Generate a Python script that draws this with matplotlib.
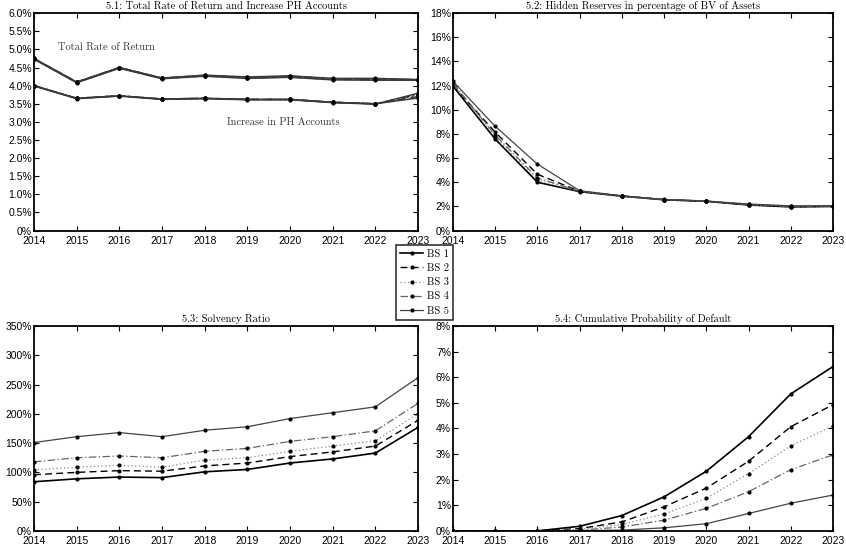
import matplotlib
matplotlib.use("Agg")
import matplotlib.pyplot as plt
from matplotlib.ticker import FuncFormatter, FixedLocator

years = [2014, 2015, 2016, 2017, 2018, 2019, 2020, 2021, 2022, 2023]
series_names = ["BS 1", "BS 2", "BS 3", "BS 4", "BS 5"]

# 5.1 Total rate of return (%) per balance sheet
trr = {
    "BS 1": [4.75, 4.10, 4.50, 4.21, 4.29, 4.24, 4.27, 4.20, 4.20, 4.17],
    "BS 2": [4.75, 4.10, 4.50, 4.21, 4.28, 4.23, 4.26, 4.19, 4.19, 4.16],
    "BS 3": [4.74, 4.09, 4.49, 4.20, 4.27, 4.22, 4.25, 4.18, 4.18, 4.16],
    "BS 4": [4.74, 4.09, 4.49, 4.20, 4.27, 4.21, 4.24, 4.17, 4.17, 4.15],
    "BS 5": [4.73, 4.08, 4.48, 4.19, 4.26, 4.20, 4.23, 4.16, 4.15, 4.15],
}
# 5.1 Increase in PH accounts (%)
ph = {
    "BS 1": [4.00, 3.65, 3.72, 3.63, 3.65, 3.62, 3.62, 3.54, 3.50, 3.66],
    "BS 2": [4.00, 3.65, 3.72, 3.63, 3.65, 3.62, 3.62, 3.54, 3.50, 3.70],
    "BS 3": [4.00, 3.65, 3.72, 3.63, 3.65, 3.62, 3.62, 3.54, 3.50, 3.73],
    "BS 4": [4.00, 3.65, 3.72, 3.63, 3.65, 3.62, 3.62, 3.54, 3.50, 3.76],
    "BS 5": [3.99, 3.64, 3.71, 3.62, 3.64, 3.61, 3.61, 3.53, 3.49, 3.79],
}
# 5.2 Hidden reserves in % of BV of assets
hidden = {
    "BS 1": [11.95, 7.57, 4.00, 3.22, 2.85, 2.55, 2.42, 2.12, 1.96, 2.00],
    "BS 2": [12.00, 8.14, 4.66, 3.25, 2.86, 2.56, 2.43, 2.14, 1.98, 2.01],
    "BS 3": [12.10, 7.75, 4.20, 3.24, 2.86, 2.56, 2.43, 2.14, 1.99, 2.02],
    "BS 4": [12.20, 7.90, 4.35, 3.26, 2.87, 2.57, 2.44, 2.16, 2.01, 2.03],
    "BS 5": [12.35, 8.63, 5.50, 3.30, 2.88, 2.58, 2.45, 2.20, 2.05, 2.06],
}
# 5.3 Solvency ratio (%)
solvency = {
    "BS 1": [84, 89, 92, 91, 101, 105, 116, 123, 133, 177],
    "BS 2": [96, 100, 103, 102, 111, 116, 127, 135, 145, 189],
    "BS 3": [104, 109, 112, 109, 121, 125, 136, 145, 154, 200],
    "BS 4": [118, 125, 128, 125, 136, 141, 153, 161, 171, 218],
    "BS 5": [151, 161, 168, 161, 172, 178, 192, 202, 212, 262],
}
# 5.4 Cumulative probability of default (%)
pd_cum = {
    "BS 1": [0.0, 0.0, 0.0, 0.18, 0.60, 1.33, 2.33, 3.68, 5.35, 6.42],
    "BS 2": [0.0, 0.0, 0.0, 0.09, 0.35, 0.94, 1.67, 2.72, 4.07, 4.93],
    "BS 3": [0.0, 0.0, 0.0, 0.06, 0.25, 0.66, 1.27, 2.24, 3.32, 4.10],
    "BS 4": [0.0, 0.0, 0.0, 0.03, 0.15, 0.42, 0.88, 1.53, 2.39, 2.97],
    "BS 5": [0.0, 0.0, 0.0, 0.01, 0.03, 0.12, 0.28, 0.68, 1.08, 1.40],
}

titles = [
    "5.1: Total Rate of Return and Increase PH Accounts",
    "5.2: Hidden Reserves in percentage of BV of Assets",
    "5.3: Solvency Ratio",
    "5.4: Cumulative Probability of Default",
]

styles = {
    "BS 1": dict(color="black", lw=1.2, ls="-"),
    "BS 2": dict(color="black", lw=1.0, ls=(0, (5, 3))),
    "BS 3": dict(color="#888888", lw=0.9, ls=(0, (1, 2))),
    "BS 4": dict(color="#666666", lw=0.9, ls=(0, (6, 2, 1, 2))),
    "BS 5": dict(color="#444444", lw=0.9, ls="-"),
}

serif = "cmr10"
sans = "Liberation Sans"

fig = plt.figure(figsize=(8.46, 5.49), dpi=100)
positions = [
    [0.0402, 0.580, 0.4540, 0.396],
    [0.5355, 0.580, 0.4491, 0.396],
    [0.0402, 0.0330, 0.4540, 0.373],
    [0.5355, 0.0330, 0.4491, 0.373],
]
axes = [fig.add_axes(p) for p in positions]


def pct_fmt_dec(v, pos):
    if abs(v) < 1e-9:
        return "0%"
    return f"{v:.1f}%"


def pct_fmt_int(v, pos):
    return f"{v:.0f}%"


def style_axes(ax, yticks, ymax, fmt, title):
    ax.set_xlim(2014, 2023)
    ax.set_ylim(0, ymax)
    ax.xaxis.set_major_locator(FixedLocator(years))
    ax.yaxis.set_major_locator(FixedLocator(yticks))
    ax.yaxis.set_major_formatter(FuncFormatter(fmt))
    ax.tick_params(direction="in", top=True, right=True, length=3.5, width=0.8,
                   labelsize=7.5)
    ax.tick_params(axis="x", pad=4.0)
    ax.tick_params(axis="y", pad=1.5)
    for lab in ax.get_xticklabels() + ax.get_yticklabels():
        lab.set_fontfamily(sans)
    for sp in ax.spines.values():
        sp.set_linewidth(1.3)
    ax.set_title(title, fontfamily=serif, fontsize=7.5, pad=3)


marker_kw = dict(marker=".", markersize=4, markerfacecolor="black", markeredgecolor="black")

# 5.1
ax = axes[0]
for name in series_names:
    st = dict(styles[name])
    ax.plot(years, trr[name], color="#3a3a3a", lw=1.1, ls=st["ls"], **marker_kw)
    ax.plot(years, ph[name], color="#3a3a3a", lw=1.1, ls=st["ls"], **marker_kw)
ax.text(2015.7, 5.05, "Total Rate of Return", fontfamily=serif, fontsize=7.5,
        color="#333333", ha="center", va="center")
ax.text(2019.85, 3.0, "Increase in PH Accounts", fontfamily=serif, fontsize=7.5,
        color="#333333", ha="center", va="center")
style_axes(ax, [i * 0.5 for i in range(13)], 6.0, pct_fmt_dec, titles[0])

# 5.2
ax = axes[1]
for name in series_names:
    ax.plot(years, hidden[name], label=name, **styles[name], **marker_kw)
style_axes(ax, list(range(0, 19, 2)), 18, pct_fmt_int, titles[1])

# 5.3
ax = axes[2]
for name in series_names:
    ax.plot(years, solvency[name], **styles[name], **marker_kw)
style_axes(ax, list(range(0, 351, 50)), 350, pct_fmt_int, titles[2])

# 5.4
ax = axes[3]
for name in series_names:
    ax.plot(years, pd_cum[name], **styles[name], **marker_kw)
style_axes(ax, list(range(0, 9)), 8, pct_fmt_int, titles[3])

handles, labels = axes[1].get_legend_handles_labels()
leg = fig.legend(handles, labels, loc="center", bbox_to_anchor=(0.5018, 0.4855),
                 prop={"family": serif, "size": 7.5}, frameon=True, fancybox=False,
                 handlelength=2.2, handletextpad=0.35, borderpad=0.4,
                 labelspacing=0.45, borderaxespad=0)
leg.get_frame().set_edgecolor("black")
leg.get_frame().set_linewidth(1.2)

fig.savefig("out.png", dpi=100)
